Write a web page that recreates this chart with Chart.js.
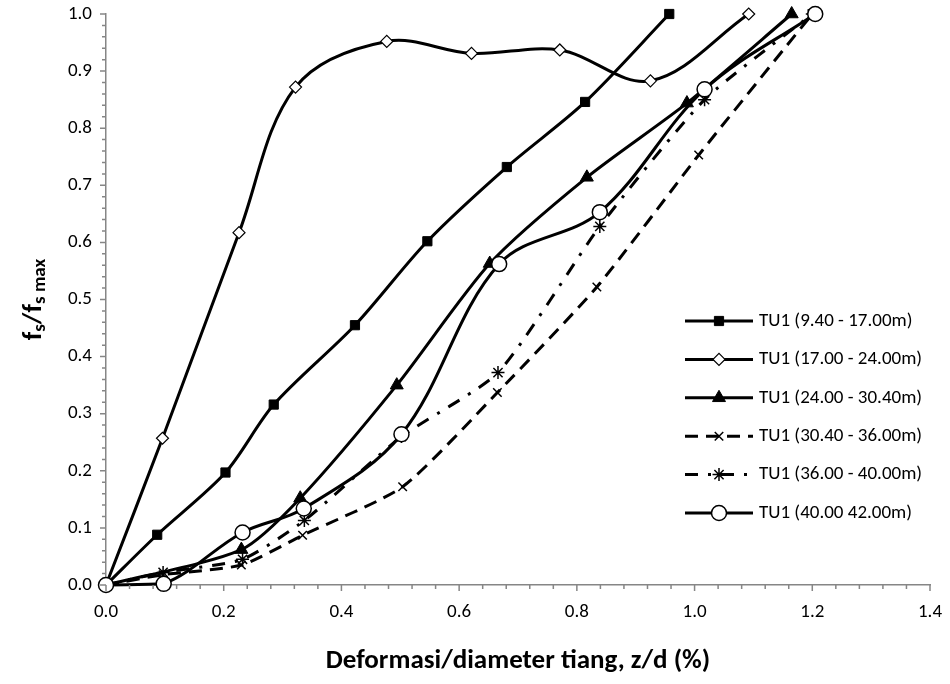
<!DOCTYPE html>
<html lang="id">
<head>
<meta charset="utf-8">
<title>fs/fs max vs z/d</title>
<style>
  html, body { margin: 0; padding: 0; background: #fff; }
  #wrap { width: 950px; height: 684px; }
</style>
</head>
<body>
<div id="wrap"><canvas id="chart" width="950" height="684"></canvas></div>

<script src="https://cdn.jsdelivr.net/npm/chart.js"></script>
<script>
    // values: z/d (%) and fs/fs max for each depth range
    const names = [
        'TU1 (9.40 - 17.00m)',
        'TU1 (17.00 - 24.00m)',
        'TU1 (24.00 - 30.40m)',
        'TU1 (30.40 - 36.00m)',
        'TU1 (36.00 - 40.00m)',
        'TU1 (40.00 42.00m)'
    ];

    const zd1 = [0, 0.087, 0.203, 0.285, 0.423, 0.546, 0.681, 0.814, 0.957];
    const fs1 = [0, 0.088, 0.197, 0.316, 0.455, 0.602, 0.732, 0.846, 1.0];

    const zd2 = [0, 0.096, 0.226, 0.322, 0.477, 0.621, 0.771, 0.925, 1.092];
    const fs2 = [0, 0.257, 0.617, 0.872, 0.952, 0.931, 0.937, 0.883, 1.0];

    const zd3 = [0, 0.230, 0.330, 0.494, 0.652, 0.817, 0.987, 1.165];
    const fs3 = [0, 0.062, 0.152, 0.350, 0.563, 0.714, 0.844, 1.0];

    const zd4 = [0, 0.097, 0.230, 0.334, 0.504, 0.665, 0.834, 1.007, 1.200];
    const fs4 = [0, 0.018, 0.035, 0.087, 0.172, 0.337, 0.522, 0.753, 1.0];

    const zd5 = [0, 0.097, 0.232, 0.337, 0.502, 0.666, 0.839, 1.017, 1.200];
    const fs5 = [0, 0.022, 0.045, 0.113, 0.260, 0.372, 0.628, 0.850, 1.0];

    const zd6 = [0, 0.098, 0.232, 0.336, 0.502, 0.668, 0.839, 1.017, 1.205];
    const fs6 = [0, 0.002, 0.092, 0.134, 0.264, 0.562, 0.653, 0.868, 1.0];

    const xTitle = 'Deformasi/diameter tiang, z/d (%)';

    const FONT = 'Carlito, Lato, "Open Sans", sans-serif';
    const AXIS_GREY = '#868686';

    function pairs(xs, ys) {
        return xs.map((x, i) => ({x: x, y: ys[i]}));
    }

    // one style entry per series, same order as names
    const styles = [
        {pointStyle: 'rect',     radius: 6.5, fill: '#000', bw: 1,   dash: [],              tension: 0.3},
        {pointStyle: 'rectRot',  radius: 6,   fill: '#fff', bw: 1.2, dash: [],              tension: 0.35},
        {pointStyle: 'triangle', radius: 7.5, fill: '#000', bw: 1,   dash: [],              tension: 0.25},
        {pointStyle: 'crossRot', radius: 6,   fill: '#000', bw: 1.5, dash: [13, 8],         tension: 0.2},
        {pointStyle: 'star',     radius: 6.5, fill: '#000', bw: 1.5, dash: [13, 10, 3, 10], tension: 0.2},
        {pointStyle: 'circle',   radius: 7.5, fill: '#fff', bw: 1.5, dash: [],              tension: 0.35}
    ];

    const series = [pairs(zd1, fs1), pairs(zd2, fs2), pairs(zd3, fs3),
                    pairs(zd4, fs4), pairs(zd5, fs5), pairs(zd6, fs6)];

    const datasets = series.map((d, i) => ({
        label: names[i],
        data: d,
        borderColor: '#000',
        borderWidth: 3,
        borderDash: styles[i].dash,
        tension: styles[i].tension,
        pointStyle: styles[i].pointStyle,
        pointRadius: styles[i].radius,
        pointBackgroundColor: styles[i].fill,
        pointBorderColor: '#000',
        pointBorderWidth: styles[i].bw,
        fill: false,
        clip: false,
        order: names.length - i
    }));

    /**
     * Minor and major tick marks outside both axes, like the spreadsheet chart
     */
    const tickMarks = {
        id: 'tickMarks',
        afterDraw(chart) {
            const ctx = chart.ctx;
            const xs = chart.scales.x, ys = chart.scales.y;
            const area = chart.chartArea;
            ctx.save();
            ctx.strokeStyle = AXIS_GREY;
            ctx.lineWidth = 1.5;
            ctx.beginPath();
            for (let k = 0; k <= 35; k++) {
                const px = xs.getPixelForValue(k * 0.04);
                const len = (k % 5 === 0) ? 6 : 4;
                ctx.moveTo(px, area.bottom);
                ctx.lineTo(px, area.bottom + len);
            }
            for (let k = 0; k <= 50; k++) {
                const py = ys.getPixelForValue(k * 0.02);
                const len = (k % 5 === 0) ? 6 : 4;
                ctx.moveTo(area.left, py);
                ctx.lineTo(area.left - len, py);
            }
            ctx.stroke();
            ctx.restore();
        }
    };

    /**
     * y axis title with subscripts: f_s / f_s max
     */
    const yTitle = {
        id: 'yTitle',
        afterDraw(chart) {
            const ctx = chart.ctx;
            const area = chart.chartArea;
            const big = 'bold 27px ' + FONT, small = 'bold 19px ' + FONT;
            const parts = [
                {t: 'f', f: big, dy: 0},
                {t: 's', f: small, dy: 6},
                {t: '/f', f: big, dy: 0},
                {t: 's max', f: small, dy: 6}
            ];
            ctx.save();
            let total = 0;
            parts.forEach(p => { ctx.font = p.f; p.w = ctx.measureText(p.t).width; total += p.w; });
            ctx.translate(34, (area.top + area.bottom) / 2);
            ctx.rotate(-Math.PI / 2);
            ctx.fillStyle = '#000';
            ctx.textBaseline = 'middle';
            ctx.textAlign = 'left';
            let x = -total / 2;
            parts.forEach(p => {
                ctx.font = p.f;
                ctx.fillText(p.t, x, p.dy);
                x += p.w;
            });
            ctx.restore();
        }
    };

    /**
     * Legend with a line sample and marker for each series
     */
    const lineLegend = {
        id: 'lineLegend',
        afterDraw(chart) {
            const ctx = chart.ctx;
            const x0 = 685, x1 = 753, tx = 759;
            const top = 321, step = 38.4;
            ctx.save();
            chart.data.datasets.forEach((ds, i) => {
                const y = top + i * step;
                ctx.strokeStyle = '#000';
                ctx.lineWidth = 3;
                ctx.setLineDash(ds.borderDash);
                ctx.beginPath();
                ctx.moveTo(x0, y);
                ctx.lineTo(x1, y);
                ctx.stroke();
                ctx.setLineDash([]);
                ctx.fillStyle = ds.pointBackgroundColor;
                ctx.strokeStyle = '#000';
                ctx.lineWidth = ds.pointBorderWidth;
                Chart.helpers.drawPoint(ctx, {
                    pointStyle: ds.pointStyle,
                    rotation: 0,
                    radius: ds.pointRadius,
                    borderWidth: ds.pointBorderWidth
                }, (x0 + x1) / 2, y);
                ctx.fillStyle = '#000';
                ctx.font = '19px ' + FONT;
                ctx.textBaseline = 'middle';
                ctx.fillText(ds.label, tx, y);
            });
            ctx.restore();
        }
    };

    const chart = new Chart(document.getElementById('chart'), {
        type: 'line',
        data: {datasets: datasets},
        plugins: [tickMarks, yTitle, lineLegend],
        options: {
            responsive: false,
            animation: false,
            layout: {padding: {left: 0, right: 20, top: 14, bottom: 0}},
            plugins: {
                legend: {display: false},
                tooltip: {enabled: false}
            },
            scales: {
                x: {
                    type: 'linear',
                    min: 0,
                    max: 1.4,
                    afterFit(scale) {
                        scale.height = 99;
                        scale.paddingLeft = 0;
                        scale.paddingRight = 0;
                    },
                    ticks: {
                        stepSize: 0.2,
                        padding: 16,
                        color: '#000',
                        font: {family: FONT, size: 19},
                        callback: v => v.toFixed(1)
                    },
                    grid: {display: false, drawTicks: false},
                    border: {display: true, color: AXIS_GREY, width: 1.5},
                    title: {
                        display: true,
                        text: xTitle,
                        color: '#000',
                        font: {family: FONT, size: 27, weight: 'bold'},
                        padding: {top: 0, bottom: 7}
                    }
                },
                y: {
                    type: 'linear',
                    min: 0,
                    max: 1,
                    afterFit(scale) {
                        scale.width = 106;
                        scale.paddingTop = 0;
                        scale.paddingBottom = 0;
                    },
                    ticks: {
                        stepSize: 0.1,
                        padding: 14,
                        color: '#000',
                        font: {family: FONT, size: 19},
                        callback: v => v.toFixed(1)
                    },
                    grid: {display: false, drawTicks: false},
                    border: {display: true, color: AXIS_GREY, width: 1.5}
                }
            }
        }
    });
</script>
</body>
</html>
